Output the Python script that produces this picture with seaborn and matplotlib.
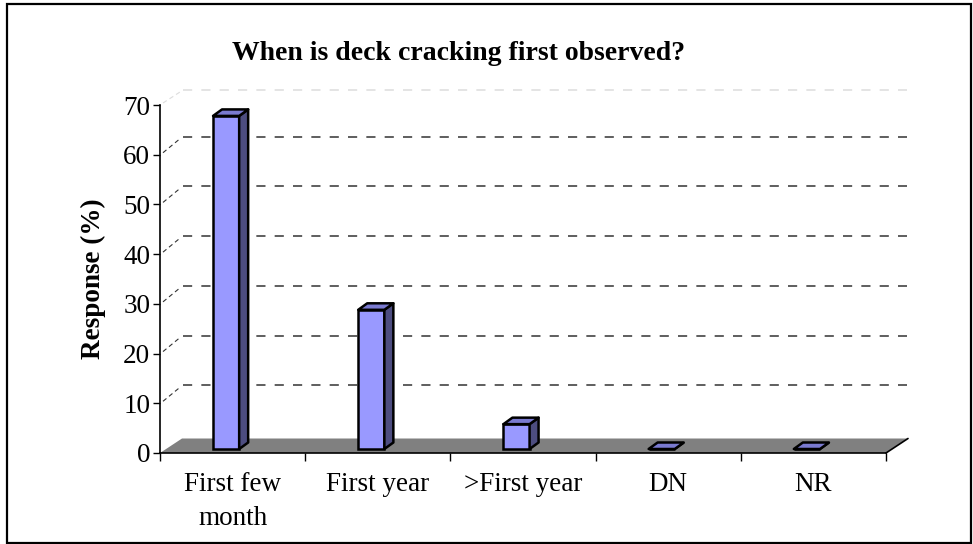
import numpy as np
import pandas as pd
import matplotlib
matplotlib.use("Agg")
import matplotlib.pyplot as plt
import seaborn as sns
from matplotlib.patches import Polygon, Rectangle

# ---- data ----
categories = ["First few\nmonth", "First year", ">First year", "DN", "NR"]
responses = [67, 28, 5, 0, 0]
yticks = [0, 10, 20, 30, 40, 50, 60, 70]
title = "When is deck cracking first observed?"
ylabel = "Response (%)"

sns.set_theme(style="white")
plt.rcParams['font.family'] = ['Liberation Serif', 'DejaVu Serif']

W, H = 973, 544
fig = plt.figure(figsize=(W / 100, H / 100), dpi=100)
fig.patch.set_facecolor("white")
ax_l, ax_r, ax_b, ax_t = 160, 886, 453, 105
ax = fig.add_axes([ax_l / W, (H - ax_b) / H, (ax_r - ax_l) / W, (ax_b - ax_t) / H])
ax.set_facecolor("none")

df = pd.DataFrame({"cat": categories, "resp": responses})
sns.barplot(data=df, x="cat", y="resp", ax=ax, color="#9999FF", saturation=1,
            width=0.18, edgecolor="black", linewidth=1.8, zorder=5)

ax.set_xlim(-0.5, len(categories) - 0.5)
ax.set_ylim(0, 70)

# pixel -> data conversion
PX = (ax_r - ax_l) / (len(categories))
PY = (ax_b - ax_t) / 70.0

# floor
fdx, fdy = 22 / PX, 14.5 / PY
x0, x1 = -0.5, len(categories) - 0.5
floor = Polygon([(x0, 0), (x1, 0), (x1 + fdx, fdy), (x0 + fdx, fdy)], closed=True,
                facecolor="#808080", edgecolor="none", zorder=1, clip_on=False)
ax.add_patch(floor)
ax.plot([x1, x1 + fdx], [0, fdy], color="black", lw=1.2, zorder=2, clip_on=False)

# back wall gridlines
gdx, gdy = 23 / PX, 18 / PY
for v in yticks[1:]:
    if v == 70:
        col, yy = "#dcdcdc", v + 15 / PY
    else:
        col, yy = "#333333", v + gdy
    ax.plot([x0 + gdx, x1 + 21 / PX], [yy, yy], color=col, lw=1.1,
            dashes=(6, 6), zorder=1, clip_on=False)
    ax.plot([x0 + 3 / PX, x0 + gdx - 3 / PX], [v + 2 / PY, yy - 2 / PY], color=col,
            lw=0.8, dashes=(4, 3), zorder=1, clip_on=False)

# 3-D bars
bdx, bdy = 9 / PX, 6.5 / PY
shift_x, base = -6.5 / PX, 4 / PY
for p in ax.patches:
    if not isinstance(p, Rectangle) or p.get_width() > 1:
        continue
    p.set_x(p.get_x() + shift_x)
    p.set_y(base)
    bx, bw, bh = p.get_x(), p.get_width(), p.get_height()
    top = base + bh
    side = Polygon([(bx + bw, base), (bx + bw + bdx, base + bdy),
                    (bx + bw + bdx, top + bdy), (bx + bw, top)], closed=True,
                   facecolor="#4D4D80", edgecolor="black", lw=1.8, zorder=5, joinstyle="round")
    cap = Polygon([(bx, top), (bx + bdx, top + bdy), (bx + bw + bdx, top + bdy),
                   (bx + bw, top)], closed=True, facecolor="#7A7AD0",
                  edgecolor="black", lw=1.8, zorder=6, joinstyle="round")
    ax.add_patch(side)
    ax.add_patch(cap)

# axes styling
for s in ["top", "right"]:
    ax.spines[s].set_visible(False)
for s in ["left", "bottom"]:
    ax.spines[s].set_color("black")
    ax.spines[s].set_linewidth(1.2)
    ax.spines[s].set_zorder(3)

ax.set_yticks(yticks)
ax.set_yticklabels([str(t) for t in yticks])
ax.tick_params(axis="y", length=5, width=1, direction="out", color="black",
               labelsize=19.5, pad=2, labelcolor="black", left=True)
ax.set_xticks(range(len(categories)))
ax.set_xticklabels(categories, linespacing=1.45)
ax.tick_params(axis="x", which="major", length=0, labelsize=19.5, pad=14, labelcolor="black")
ax.set_xticks(np.arange(-0.5, len(categories), 1), minor=True)
ax.tick_params(axis="x", which="minor", length=6, width=1, direction="out",
               color="black", bottom=True)
ax.set_xlabel("")
ax.set_ylabel("")
ax.grid(False)

fig.text(93 / W, 1 - 279 / H, ylabel, rotation=90, ha="center", va="center",
         fontsize=19.5, fontweight="bold", color="black")
fig.text(459 / W, 1 - 53 / H, title, ha="center", va="center",
         fontsize=20, fontweight="bold", color="black")

fig.patches.append(Rectangle((7 / W, 1 - 543 / H), (971 - 7) / W, (543 - 4) / H,
                             transform=fig.transFigure, fill=False,
                             edgecolor="black", lw=1.6))

fig.savefig("out.png", dpi=100)
